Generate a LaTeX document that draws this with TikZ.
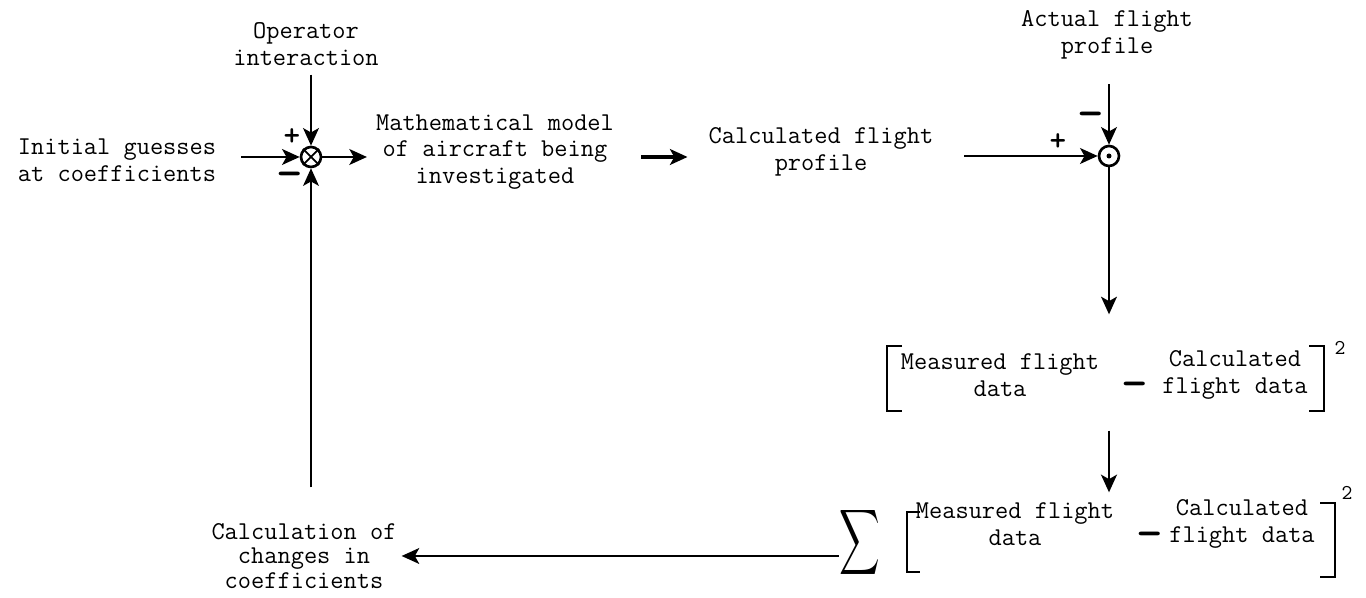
\documentclass[tikz,border=0pt]{standalone}
\usepackage{graphicx}
\usetikzlibrary{arrows.meta,fit}

\begin{document}
\begin{tikzpicture}[
    >={Stealth[length=10pt,width=9pt,inset=2.5pt]},
    line width=1.3pt,
    txt/.style={font=\fontsize{14.6}{15.3}\selectfont\ttfamily, align=center, inner sep=0pt},
    junction/.style={circle, draw, line width=1.5pt, minimum size=0.4cm, inner sep=0pt},
    sign/.style={font=\fontsize{18}{18}\selectfont\ttfamily\bfseries, inner sep=0pt}
]
    \useasboundingbox (0,0) rectangle (27.32,11.96);

    % Text blocks
    \node[txt] (oper)   at (6.12,11.08)  {Operator\\interaction};
    \node[txt] (actual) at (22.14,11.26) {Actual flight\\profile};
    \node[txt] (init)   at (2.34,8.76)   {Initial guesses\\at coefficients};
    \node[txt] (model)  at (9.90,8.92)   {Mathematical model\\of aircraft being\\investigated};
    \node[txt] (calc)   at (16.42,8.92)  {Calculated flight\\profile};
    \node[txt, font=\fontsize{14.6}{13.9}\selectfont\ttfamily] (chg) at (6.08,0.84)
        {Calculation of\\changes in\\coefficients};

    % Summing junctions
    \node[junction] (j1) at (6.22,8.82) {};
    \draw[line width=1pt] (j1.north west) -- (j1.south east) (j1.north east) -- (j1.south west);
    \node[junction] (j2) at (22.18,8.84) {};
    \fill (j2) circle (0.05);

    \node[sign] at (5.84,9.22)  {+};
    \node[sign] at (5.80,8.36)  {\scalebox{1.6}[1.4]{\textendash}};
    \node[sign] at (21.16,9.12) {+};
    \node[sign] at (21.82,9.56) {\scalebox{1.6}[1.4]{\textendash}};

    % Squared difference
    \node[txt] (m1) at (20.00,4.46) {Measured flight\\data};
    \node[txt] (c1) at (24.70,4.46) {Calculated\\flight data};
    \node[sign] at (22.70,4.16) {\scalebox{1.6}[1.4]{\textendash}};
    \node[fit=(m1)(c1), inner sep=0pt] (sq1) {};
    \draw[line width=0.8pt] (18.04,5.04) -- (17.74,5.04) -- (17.74,3.74) -- (18.04,3.74);
    \draw[line width=0.8pt] (26.18,5.04) -- (26.48,5.04) -- (26.48,3.74) -- (26.18,3.74);
    \node[txt, font=\fontsize{12}{12}\selectfont\ttfamily] at (26.80,5.00) {2};

    % Sum of squared differences
    \node[inner sep=0pt] (sigma) at (17.20,1.12) {\scalebox{1.6}[2.6]{$\displaystyle\sum$}};
    \node[txt] (m2) at (20.30,1.48) {Measured flight\\data};
    \node[txt] (c2) at (24.84,1.48) {Calculated\\flight data};
    \node[sign] at (23.00,1.16) {\scalebox{1.6}[1.4]{\textendash}};
    \node[fit=(m2)(c2), inner sep=0pt] (sq2) {};
    \draw[line width=0.8pt] (18.40,1.72) -- (18.14,1.72) -- (18.14,0.52) -- (18.40,0.52);
    \draw[line width=0.8pt] (26.40,1.90) -- (26.70,1.90) -- (26.70,0.42) -- (26.40,0.42);
    \node[txt, font=\fontsize{12}{12}\selectfont\ttfamily] at (26.94,2.10) {2};

    % Signal flow
    \draw[->, shorten <=0.16cm] (oper.south -| j1) -- (j1);
    \draw[->, shorten <=0.48cm] (init.east |- j1) -- (j1);
    \draw[->, shorten >=0.16cm] (j1) -- (model.west |- j1);
    \draw[->, line width=1.8pt, shorten <=0.52cm, shorten >=0.40cm] (model.east |- j1) -- (calc.west |- j1);
    \draw[->, shorten <=0.60cm] (calc.east |- j2) -- (j2);
    \draw[->, shorten <=0.48cm] (actual.south -| j2) -- (j2);
    \draw[->, shorten >=0.68cm] (j2) -- (sq1.north -| j2);
    \draw[->, line width=1.6pt, shorten <=0.58cm, shorten >=0.10cm] (sq1.south -| j2) -- (sq2.north -| j2);
    \draw[->, shorten >=0.08cm] (sigma.west |- chg) -- (chg.east);
    \draw[->, line width=0.9pt, shorten <=0.70cm] (chg.north -| j1) -- (j1);

\end{tikzpicture}
\end{document}
